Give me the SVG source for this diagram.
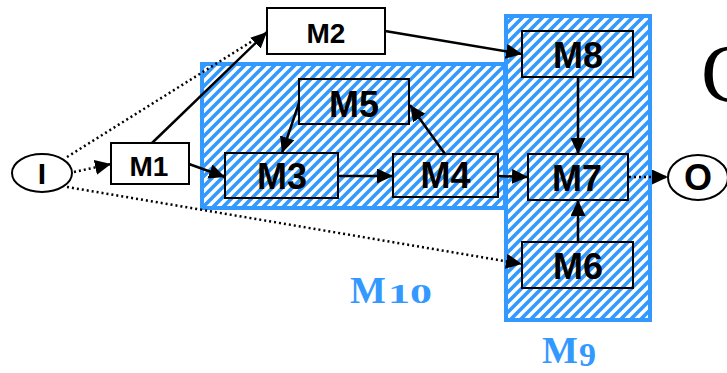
<svg xmlns="http://www.w3.org/2000/svg" width="727" height="373" viewBox="0 0 727 373">
<style>
.box{fill:#fff;stroke:#000;stroke-width:2}
.ibox{fill:none;stroke:#000;stroke-width:2}
.region{fill:url(#hatch);stroke:#3399FF;stroke-width:4}
.lbl{font-family:"Liberation Sans",Arial,sans-serif;font-weight:bold;fill:#000;text-anchor:middle}
.big{font-size:36px}
.small{font-size:28px}
.rl{font-family:"Liberation Serif","Times New Roman",serif;font-weight:bold;fill:#3399FF;font-size:38px}
.solid{fill:none;stroke:#000;stroke-width:2.5}
.dot{fill:none;stroke:#000;stroke-width:2.5;stroke-dasharray:2 3}
</style>
<defs>
<pattern id="hatch" patternUnits="userSpaceOnUse" width="10" height="10">
<rect width="10" height="10" fill="#fff"/>
<path d="M-2,12 L12,-2 M-3,3 L3,-3 M7,13 L13,7" stroke="#3399FF" stroke-width="3.6"/>
</pattern>
<marker id="arr" markerUnits="userSpaceOnUse" markerWidth="17" markerHeight="16" refX="16" refY="7.5" orient="auto">
<path d="M0,0 L16,7.5 L0,15 z" fill="#000"/>
</marker>
</defs>

<g id="M9">
<rect class="region" x="506" y="16" width="144" height="304"/>
<text class="rl" x="542" y="363">M<tspan dy="3" font-size="34" dx="1">9</tspan></text>
</g>
<g id="M10">
<rect class="region" x="202" y="64" width="303" height="144"/>
<text class="rl" x="350" y="303">M<tspan font-size="27" dx="2" textLength="44" lengthAdjust="spacingAndGlyphs">10</tspan></text>
</g>

<g id="I">
<ellipse cx="42" cy="173" rx="30" ry="19" fill="#fff" stroke="#000" stroke-width="2"/>
<text class="lbl" x="42" y="184" font-size="30">I</text>
</g>
<g id="O">
<ellipse cx="698" cy="177.5" rx="30" ry="22.5" fill="#fff" stroke="#000" stroke-width="2"/>
<text class="lbl big" x="698" y="190">O</text>
</g>
<g id="M1">
<rect class="box" x="111" y="143" width="78" height="41"/>
<text class="lbl small" x="149" y="176">M1</text>
</g>
<g id="M2">
<rect class="box" x="267" y="8" width="118" height="46"/>
<text class="lbl small" x="326" y="43">M2</text>
</g>
<g id="M3">
<rect class="ibox" x="225" y="153" width="113" height="45"/>
<text class="lbl big" x="282" y="189">M3</text>
</g>
<g id="M4">
<rect class="ibox" x="393" y="154" width="105" height="43"/>
<text class="lbl big" x="445.5" y="188">M4</text>
</g>
<g id="M5">
<rect class="ibox" x="299" y="79" width="110" height="45"/>
<text class="lbl big" x="354" y="117">M5</text>
</g>
<g id="M6">
<rect class="ibox" x="522" y="242" width="111" height="46"/>
<text class="lbl big" x="578" y="279">M6</text>
</g>
<g id="M7">
<rect class="ibox" x="528" y="154" width="100" height="46"/>
<text class="lbl big" x="577" y="191">M7</text>
</g>
<g id="M8">
<rect class="ibox" x="522" y="31" width="111" height="46"/>
<text class="lbl big" x="578" y="68">M8</text>
</g>

<g id="connectors">
<line class="dot" x1="74" y1="172" x2="111" y2="164" marker-end="url(#arr)"/>
<line class="dot" x1="67" y1="157" x2="262" y2="35"/>
<line class="solid" x1="152" y1="143" x2="267" y2="32" marker-end="url(#arr)"/>
<line class="dot" x1="67" y1="187" x2="522" y2="264" marker-end="url(#arr)"/>
<line class="solid" x1="189" y1="164" x2="225" y2="177" marker-end="url(#arr)"/>
<line class="solid" x1="385" y1="31" x2="522" y2="54" marker-end="url(#arr)"/>
<line class="solid" x1="299" y1="103" x2="282" y2="153" marker-end="url(#arr)"/>
<line class="solid" x1="338" y1="176" x2="393" y2="176" marker-end="url(#arr)"/>
<line class="solid" x1="445" y1="154" x2="410" y2="105" marker-end="url(#arr)"/>
<line class="solid" x1="498" y1="176" x2="528" y2="177" marker-end="url(#arr)"/>
<line class="solid" x1="578" y1="77" x2="578" y2="154" marker-end="url(#arr)"/>
<line class="solid" x1="578" y1="242" x2="578" y2="200" marker-end="url(#arr)"/>
<line class="dot" x1="629" y1="177" x2="668" y2="177" marker-end="url(#arr)"/>
</g>

<text x="701" y="101" font-family="'Liberation Serif','Times New Roman',serif" font-size="82" fill="#000">C</text>
</svg>
